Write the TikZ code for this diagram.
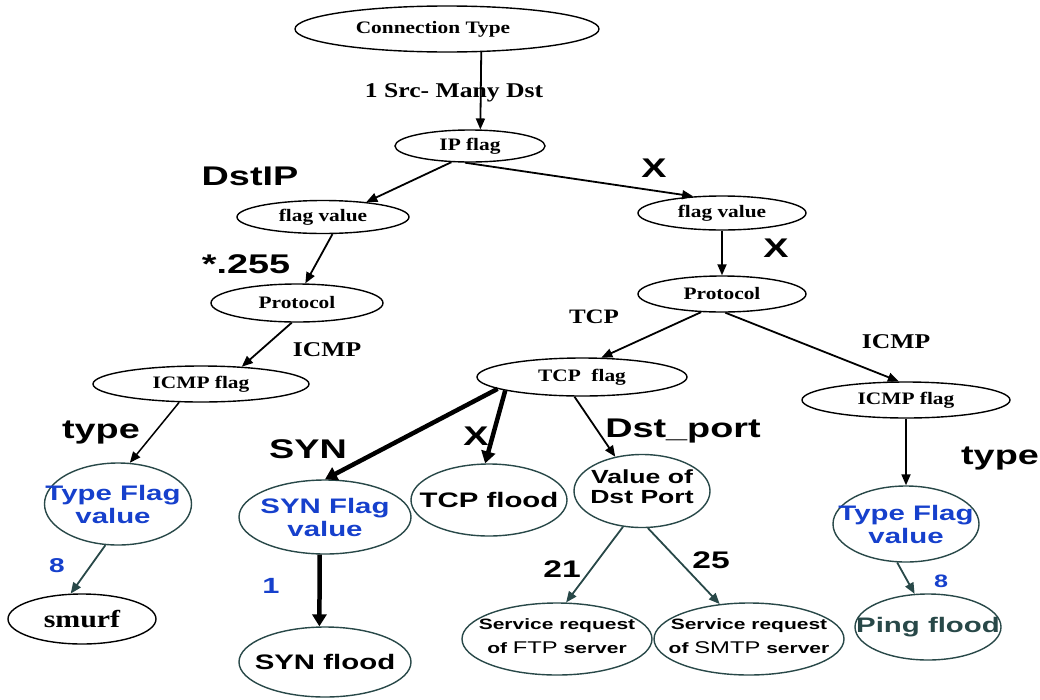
\documentclass[tikz,border=0pt]{standalone}
\usepackage{fontspec}
\setmainfont{Liberation Serif}[FakeStretch=1.22]
\newfontfamily\sfb{Liberation Sans}[FakeStretch=1.4]
\usetikzlibrary{shapes.geometric,arrows.meta}
\definecolor{slate}{RGB}{40,72,72}
\definecolor{flagblue}{RGB}{22,64,204}
\newcommand\setfs[1]{\fontsize{#1}{#1}\selectfont}
\begin{document}
\begin{tikzpicture}[x=1pt,y=-1pt,
  ov/.style={ellipse, draw, line width=1.4pt, inner sep=0pt},
  sov/.style={ov, draw=slate},
  stxt/.style={font=\bfseries\setfs{17.5}},
  ltxt/.style={font=\bfseries\setfs{21}, anchor=base, inner sep=0pt},
  btxt/.style={font=\sfb\bfseries\setfs{27}, anchor=base, inner sep=0pt},
  ntxt/.style={font=\sfb\bfseries\setfs{24}, anchor=base, inner sep=0pt},
  vtxt/.style={font=\sfb\bfseries\setfs{20}, text=flagblue, anchor=base, inner sep=0pt},
  ftxt/.style={font=\sfb\bfseries\setfs{21}},
  bluetxt/.style={font=\sfb\bfseries\fontsize{21}{23}\selectfont, text=flagblue, align=center},
  arr/.style={-{Triangle[length=11pt,width=9pt]}, line width=1.8pt},
  tarr/.style={arr, draw=slate, -{Triangle[length=11pt,width=9pt,fill=slate]}},
  thk/.style={-{Triangle[length=12pt,width=14pt]}, line width=4.5pt}]
\useasboundingbox (0,0) rectangle (1040,699);

% ---- decision nodes ----
\node[ov, minimum width=304pt, minimum height=46pt,
  label={[stxt, xshift=-14pt]center:Connection Type}] (ct) at (447,29) {};
\node[ov, minimum width=150pt, minimum height=32pt,
  label={[stxt]center:IP flag}] (ip) at (470,146) {};
\node[ov, minimum width=172pt, minimum height=33pt,
  label={[stxt]center:flag value}] (fvl) at (323,217) {};
\node[ov, minimum width=168pt, minimum height=34pt,
  label={[stxt]center:flag value}] (fvr) at (722,213) {};
\node[ov, minimum width=172pt, minimum height=38pt,
  label={[stxt]center:Protocol}] (prl) at (297,303) {};
\node[ov, minimum width=168pt, minimum height=36pt,
  label={[stxt]center:Protocol}] (prr) at (722,294) {};
\node[ov, minimum width=216pt, minimum height=36pt,
  label={[stxt]center:ICMP flag}] (icl) at (201,384) {};
\node[ov, minimum width=210pt, minimum height=38pt,
  label={[stxt]center:TCP\ \ flag}] (tcpf) at (582,377) {};
\node[ov, minimum width=208pt, minimum height=36pt,
  label={[stxt]center:ICMP flag}] (icr) at (906,400) {};

% ---- value nodes ----
\node[sov, minimum width=147pt, minimum height=82pt,
  label={[bluetxt, xshift=-5pt]center:Type Flag\\value}] (tfl) at (118,504) {};
\node[sov, minimum width=172pt, minimum height=74pt,
  label={[bluetxt]center:SYN Flag\\value}] (synf) at (325,517) {};
\node[sov, minimum width=136pt, minimum height=73pt,
  label={[font=\sfb\bfseries\fontsize{19}{20}\selectfont, align=center, yshift=4pt]center:Value of\\Dst Port}] (vdp) at (642,491) {};
\node[sov, minimum width=146pt, minimum height=76pt,
  label={[bluetxt]center:Type Flag\\value}] (tfr) at (906,524) {};

% ---- leaves ----
\node[ov, minimum width=148pt, minimum height=50pt,
  label={[font=\bfseries\setfs{24.5}]center:smurf}] (smurf) at (82,619) {};
\node[sov, minimum width=172pt, minimum height=70pt,
  label={[ftxt]center:SYN flood}] (synfl) at (325,662) {};
\node[sov, minimum width=156pt, minimum height=72pt,
  label={[ftxt]center:TCP flood}] (tcpfl) at (489,500) {};
\node[sov, minimum width=190pt, minimum height=72pt,
  label={[font=\sfb\bfseries\fontsize{15}{24}\selectfont, align=center, yshift=3pt]center:Service request\\of {\mdseries\setfs{17}FTP} server}] (ftp) at (557,639) {};
\node[sov, minimum width=190pt, minimum height=72pt,
  label={[font=\sfb\bfseries\fontsize{15}{24}\selectfont, align=center, yshift=3pt]center:Service request\\of {\mdseries\setfs{17}SMTP} server}] (smtp) at (749,639) {};
\node[sov, minimum width=146pt, minimum height=66pt,
  label={[ftxt, text=slate]center:Ping flood}] (ping) at (928,627) {};

% ---- connectors ----
\draw[arr] (ct.-34) -- (ip.58);
\draw[arr] (ip.-139) -- (fvl.19);
\draw[arr] (ip.-107) -- (fvr.150);
\draw[arr] (fvl.-61) -- (prl.67);
\draw[arr] (fvr.south) -- (prr.north);
\draw[arr] (prl.-105) -- (icl.23);
\draw[arr, line width=1.5pt] (icl.-140) -- (tfl.74);
\draw[tarr] (tfl.-107) -- (smurf.114);
\draw[arr] (prr.-139) -- (tcpf.45);
\draw[arr] (prr.-80) -- (icr.111);
\draw[arr] (icr.south) -- (tfr.north);
\draw[tarr] (tfr.-103) -- (ping.112);
\draw[thk] (tcpf.-172) -- (synf.north);
\draw[thk] (tcpf.-170) -- (tcpfl.96);
\draw[arr] (tcpf.-111) -- (vdp.128);
\draw[thk] (synf.-98) -- (synfl.99);
\draw[tarr] (vdp.-118) -- (ftp.76);
\draw[tarr] (vdp.-81) -- (smtp.130);

% ---- edge labels ----
\node[ltxt] (lsrc) at (454,97) {1 Src- Many Dst};
\node[btxt] (ldst) at (250,185) {DstIP};
\node[btxt] (lxa) at (654,177) {X};
\node[btxt] (lxb) at (776,257) {X};
\node[btxt] (l255) at (246,273) {*.255};
\node[ltxt, font=\bfseries\setfs{20.5}] (ltcp) at (594,323) {TCP};
\node[ltxt] (licr) at (896,348) {ICMP};
\node[ltxt] (licl) at (327,356) {ICMP};
\node[btxt] (ltypl) at (101,438) {type};
\node[btxt] (ltypr) at (1000,464) {type};
\node[btxt] (lsyn) at (308,458) {SYN};
\node[btxt] (lxc) at (476,445) {X};
\node[btxt] (lport) at (683,437) {Dst\_port};
\node[ntxt] (l21) at (562,577) {21};
\node[ntxt] (l25) at (711,568) {25};
\node[vtxt] (l8a) at (57,572) {8};
\node[vtxt, font=\sfb\bfseries\setfs{22}] (l1) at (271,593) {1};
\node[vtxt, font=\sfb\bfseries\setfs{18}] (l8b) at (941,587) {8};
\end{tikzpicture}
\end{document}
